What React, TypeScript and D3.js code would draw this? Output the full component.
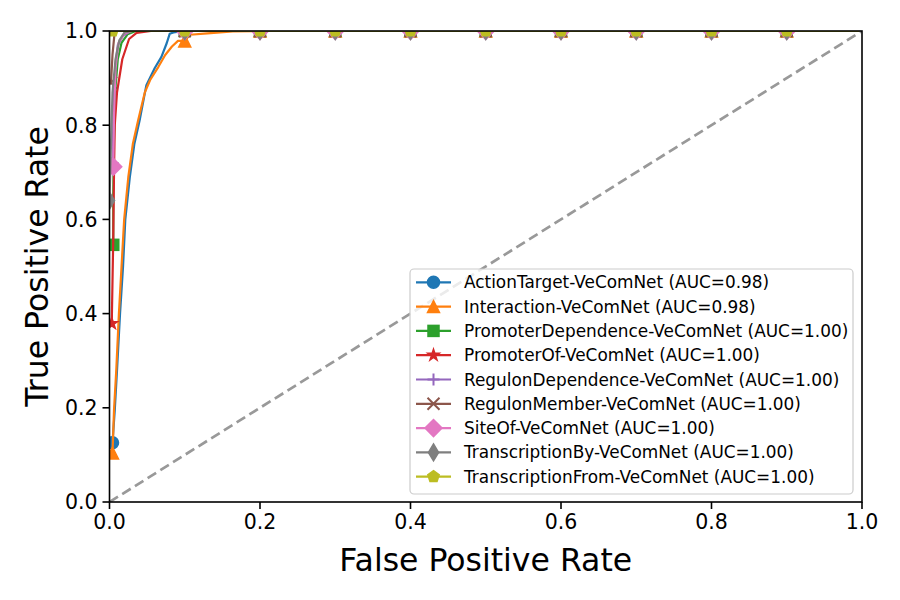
import React from "react";
import * as d3 from "d3";

// ROC curves, one per relation type: [false positive rate, true positive rate]
const seriesNames = [
  "ActionTarget-VeComNet",
  "Interaction-VeComNet",
  "PromoterDependence-VeComNet",
  "PromoterOf-VeComNet",
  "RegulonDependence-VeComNet",
  "RegulonMember-VeComNet",
  "SiteOf-VeComNet",
  "TranscriptionBy-VeComNet",
  "TranscriptionFrom-VeComNet",
];
const aucValues = [0.98, 0.98, 1.0, 1.0, 1.0, 1.0, 1.0, 1.0, 1.0];

const actionTargetRoc: [number, number][] = [
  [0.004, 0.126], [0.007, 0.195], [0.01, 0.28], [0.014, 0.4], [0.018, 0.5],
  [0.021, 0.6], [0.027, 0.69], [0.033, 0.76], [0.04, 0.81], [0.049, 0.885],
  [0.06, 0.921], [0.069, 0.945], [0.076, 0.974], [0.08, 0.994], [0.085, 0.997],
  [0.1, 1], [0.2, 1], [0.3, 1], [0.4, 1], [0.5, 1], [0.6, 1], [0.7, 1], [0.8, 1], [0.9, 1], [1.0, 1],
];
const interactionRoc: [number, number][] = [
  [0.004, 0.104], [0.006, 0.195], [0.009, 0.28], [0.0125, 0.4], [0.016, 0.5],
  [0.0195, 0.6], [0.025, 0.69], [0.031, 0.76], [0.038, 0.81], [0.047, 0.87],
  [0.054, 0.896], [0.065, 0.924], [0.074, 0.949], [0.083, 0.967], [0.091, 0.979],
  [0.1, 0.979], [0.107, 0.992], [0.13, 0.995], [0.164, 0.999],
  [0.2, 1], [0.3, 1], [0.4, 1], [0.5, 1], [0.6, 1], [0.7, 1], [0.8, 1], [0.9, 1], [1.0, 1],
];
const promoterDependenceRoc: [number, number][] = [
  [0.005, 0.546], [0.005, 0.65], [0.006, 0.78], [0.008, 0.88], [0.011, 0.94],
  [0.016, 0.975], [0.024, 0.993], [0.035, 1],
  [0.1, 1], [0.2, 1], [0.3, 1], [0.4, 1], [0.5, 1], [0.6, 1], [0.7, 1], [0.8, 1], [0.9, 1], [1.0, 1],
];
const promoterOfRoc: [number, number][] = [
  [0.003, 0.379], [0.005, 0.56], [0.006, 0.7], [0.007, 0.8], [0.01, 0.87],
  [0.017, 0.94], [0.026, 0.983], [0.036, 0.996], [0.055, 1],
  [0.1, 1], [0.2, 1], [0.3, 1], [0.4, 1], [0.5, 1], [0.6, 1], [0.7, 1], [0.8, 1], [0.9, 1], [1.0, 1],
];
const regulonDependenceRoc: [number, number][] = [
  [0.004, 0.72], [0.005, 0.8], [0.006, 0.87], [0.008, 0.93], [0.011, 0.97],
  [0.018, 0.99], [0.028, 1],
  [0.1, 1], [0.2, 1], [0.3, 1], [0.4, 1], [0.5, 1], [0.6, 1], [0.7, 1], [0.8, 1], [0.9, 1], [1.0, 1],
];
const regulonMemberRoc: [number, number][] = [
  [0.002, 0.89], [0.004, 0.95], [0.007, 1],
  [0.1, 1], [0.2, 1], [0.3, 1], [0.4, 1], [0.5, 1], [0.6, 1], [0.7, 1], [0.8, 1], [0.9, 1], [1.0, 1],
];
const siteOfRoc: [number, number][] = [
  [0.005, 0.712], [0.006, 0.82], [0.008, 0.92], [0.012, 0.975], [0.02, 0.995], [0.03, 1],
  [0.1, 1], [0.2, 1], [0.3, 1], [0.4, 1], [0.5, 1], [0.6, 1], [0.7, 1], [0.8, 1], [0.9, 1], [1.0, 1],
];
const transcriptionByRoc: [number, number][] = [
  [0.0, 0.64], [0.002, 0.76], [0.004, 0.87], [0.008, 0.94], [0.013, 0.98],
  [0.02, 0.997], [0.03, 1],
  [0.1, 1], [0.2, 1], [0.3, 1], [0.4, 1], [0.5, 1], [0.6, 1], [0.7, 1], [0.8, 1], [0.9, 1], [1.0, 1],
];
const transcriptionFromRoc: [number, number][] = [
  [0.004, 1],
  [0.1, 1], [0.2, 1], [0.3, 1], [0.4, 1], [0.5, 1], [0.6, 1], [0.7, 1], [0.8, 1], [0.9, 1], [1.0, 1],
];

const rocCurves = [
  actionTargetRoc, interactionRoc, promoterDependenceRoc, promoterOfRoc,
  regulonDependenceRoc, regulonMemberRoc, siteOfRoc, transcriptionByRoc, transcriptionFromRoc,
];

// markers sit on the first point and on these false-positive rates
const markerFpr = [0.1, 0.2, 0.3, 0.4, 0.5, 0.6, 0.7, 0.8, 0.9];
const tickValues = [0, 0.2, 0.4, 0.6, 0.8, 1.0];

const colors = d3.schemeCategory10;
const markerKinds = ["circle", "triangle", "square", "star", "plus", "cross", "diamond", "thinDiamond", "pentagon"];

const W = 900, H = 600;
const left = 109.5, right = 862, top = 31, bottom = 502;

const FONT = "'DejaVu Sans', sans-serif";

function Marker({ kind, x, y, color }: { kind: string; x: number; y: number; color: string }) {
  const s = 12;
  const common = { fill: color, stroke: color, strokeWidth: 1.5 };
  switch (kind) {
    case "circle":
      return <circle cx={x} cy={y} r={s / 2} {...common} />;
    case "triangle": {
      const h = s / 2;
      return <path d={`M${x},${y - h}L${x + h},${y + h}L${x - h},${y + h}Z`} {...common} />;
    }
    case "square":
      return <rect x={x - s / 2 + 0.5} y={y - s / 2 + 0.5} width={s - 1} height={s - 1} {...common} />;
    case "star": {
      const pts: string[] = [];
      for (let i = 0; i < 10; i++) {
        const r = i % 2 === 0 ? s / 2 : (s / 2) * 0.382;
        const a = -Math.PI / 2 + (i * Math.PI) / 5;
        pts.push(`${x + r * Math.cos(a)},${y + r * Math.sin(a)}`);
      }
      return <polygon points={pts.join(" ")} {...common} />;
    }
    case "plus":
      return (
        <path d={`M${x - s / 2},${y}H${x + s / 2}M${x},${y - s / 2}V${y + s / 2}`} stroke={color} strokeWidth={2} fill="none" />
      );
    case "cross":
      return (
        <path
          d={`M${x - s / 2},${y - s / 2}L${x + s / 2},${y + s / 2}M${x - s / 2},${y + s / 2}L${x + s / 2},${y - s / 2}`}
          stroke={color} strokeWidth={2} fill="none"
        />
      );
    case "diamond": {
      const r = s * 0.707;
      return <path d={`M${x},${y - r}L${x + r},${y}L${x},${y + r}L${x - r},${y}Z`} {...common} />;
    }
    case "thinDiamond": {
      const r = s * 0.707;
      const rx = r * 0.6;
      return <path d={`M${x},${y - r}L${x + rx},${y}L${x},${y + r}L${x - rx},${y}Z`} {...common} />;
    }
    case "pentagon": {
      const pts: string[] = [];
      for (let i = 0; i < 5; i++) {
        const a = -Math.PI / 2 + (i * 2 * Math.PI) / 5;
        pts.push(`${x + (s / 2) * Math.cos(a)},${y + (s / 2) * Math.sin(a)}`);
      }
      return <polygon points={pts.join(" ")} {...common} />;
    }
    default:
      return null;
  }
}

export default function App() {
  const xScale = d3.scaleLinear().domain([0, 1]).range([left, right]);
  const yScale = d3.scaleLinear().domain([0, 1]).range([bottom, top]);
  const line = d3
    .line<[number, number]>()
    .x((d) => xScale(d[0]))
    .y((d) => yScale(d[1]));

  const legendX = 410, legendY = 269, legendW = 443, legendH = 225;
  const rowStep = 24.3, firstRow = 282.3;

  return (
    <svg width={W} height={H} style={{ display: "block", position: "absolute", left: 0, top: 0 }}>
      <rect x={0} y={0} width={W} height={H} fill="white" />
      <defs>
        <clipPath id="plot-area">
          <rect x={left} y={top} width={right - left} height={bottom - top} />
        </clipPath>
      </defs>

      <g clipPath="url(#plot-area)">
        {rocCurves.map((pts, i) => (
          <g key={seriesNames[i]}>
            <path d={line(pts) || ""} fill="none" stroke={colors[i]} strokeWidth={2.2} strokeLinejoin="round" />
            {pts
              .filter((p, j) => j === 0 || markerFpr.some((m) => Math.abs(m - p[0]) < 1e-9))
              .map((p, j) => (
                <Marker key={j} kind={markerKinds[i]} x={xScale(p[0])} y={yScale(p[1])} color={colors[i]} />
              ))}
          </g>
        ))}
        <line
          x1={xScale(0)} y1={yScale(0)} x2={xScale(1)} y2={yScale(1)}
          stroke="#999999" strokeWidth={2.7} strokeDasharray="10,5"
        />
      </g>

      {/* frame */}
      <rect x={left} y={top} width={right - left} height={bottom - top} fill="none" stroke="black" strokeWidth={1.6} />

      {/* x ticks */}
      {tickValues.map((t) => (
        <g key={"x" + t}>
          <line x1={xScale(t)} x2={xScale(t)} y1={bottom} y2={bottom + 7} stroke="black" strokeWidth={1.6} />
          <text x={xScale(t)} y={bottom + 27} textAnchor="middle" fontFamily={FONT} fontSize={20.5} fill="black">
            {t.toFixed(1)}
          </text>
        </g>
      ))}
      {/* y ticks */}
      {tickValues.map((t) => (
        <g key={"y" + t}>
          <line x1={left - 7} x2={left} y1={yScale(t)} y2={yScale(t)} stroke="black" strokeWidth={1.6} />
          <text x={left - 12} y={yScale(t)} dy="0.36em" textAnchor="end" fontFamily={FONT} fontSize={20.5} fill="black">
            {t.toFixed(1)}
          </text>
        </g>
      ))}

      <text x={(left + right) / 2} y={571} textAnchor="middle" fontFamily={FONT} fontSize={31.5} fill="black">
        False Positive Rate
      </text>
      <text
        transform={`translate(48,${(top + bottom) / 2}) rotate(-90)`}
        textAnchor="middle" fontFamily={FONT} fontSize={31.5} fill="black"
      >
        True Positive Rate
      </text>

      {/* legend */}
      <rect
        x={legendX} y={legendY} width={legendW} height={legendH} rx={4}
        fill="white" fillOpacity={0.8} stroke="#cccccc" strokeWidth={1.2}
      />
      {seriesNames.map((name, i) => {
        const cy = firstRow + i * rowStep;
        return (
          <g key={"lg" + name}>
            <line x1={416} x2={451} y1={cy} y2={cy} stroke={colors[i]} strokeWidth={2.2} />
            <Marker kind={markerKinds[i]} x={433.5} y={cy} color={colors[i]} />
            <text x={464} y={cy} dy="0.36em" fontFamily={FONT} fontSize={16.9} fill="black">
              {`${name} (AUC=${aucValues[i].toFixed(2)})`}
            </text>
          </g>
        );
      })}
    </svg>
  );
}
